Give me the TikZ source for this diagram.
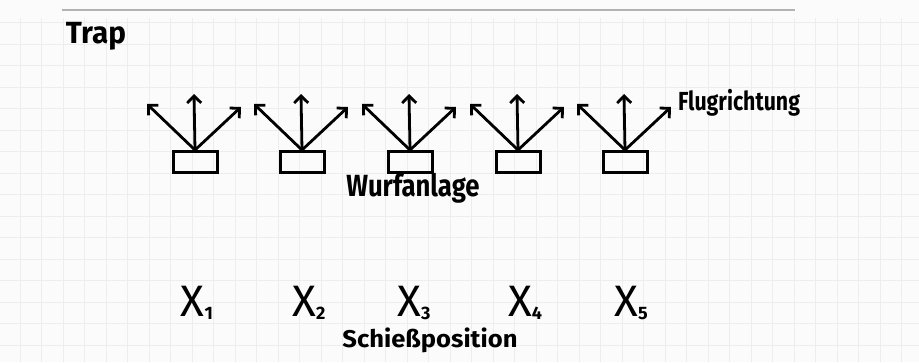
\documentclass[tikz,border=0pt]{standalone}
\usepackage{fontspec}
\setmainfont{Fira Sans}
\usepackage{graphicx}
\usetikzlibrary{arrows.meta}
\newcommand{\fitw}[3]{\resizebox*{#1pt}{#2pt}{#3}}
\newcommand{\posx}[1]{{\fontsize{44}{44}\selectfont\mdseries X}\raisebox{-3pt}{\fontsize{18}{18}\selectfont\bfseries #1}}
\begin{document}
\begin{tikzpicture}[x=1pt,y=-1pt,
  thrower/.style={draw=black,line width=3pt,minimum width=44pt,minimum height=21pt,inner sep=0pt},
  flight/.style={line width=2.8pt,line cap=round,-{Straight Barb[length=7pt,width=14pt,line width=2.8pt]}},
  hand/.style={inner sep=0pt,text=black,font=\bfseries},
  paper/.style={draw=gray!14,line width=0.5pt},
  ]
\useasboundingbox (0,0) rectangle (919,362);
\fill[gray!3] (0,0) rectangle (919,362);
% faint squared paper
\foreach \k in {0,...,15} {\draw[paper] (0,{22.5+21.5*\k}) -- (919,{22.5+21.5*\k});}
\foreach \k in {0,...,42} {\draw[paper] ({20+21.5*\k},18) -- ({20+21.5*\k},362);}
\draw[gray!60,line width=1.2pt] (62,10) -- (795,10);
% throwing machines with flight directions
\foreach \i/\x in {1/195,2/302,3/410,4/518,5/625} {
  \node[thrower] (w\i) at (\x,162) {};
  \coordinate (l\i) at (\x-48,104);
  \coordinate (u\i) at (\x-1,94);
  \coordinate (r\i) at (\x+46,107);
  \draw[flight] (w\i.north) -- (l\i);
  \draw[flight] (w\i.north) -- (u\i);
  \draw[flight] (w\i.north) -- (r\i);
}
% shooting positions
\foreach \i/\x in {1/197,2/309,3/414,4/525,5/631} {
  \node[hand] (x\i) at (\x,303) {\posx{\i}};
}
\node[hand] (trap) at (96,36) {\fitw{60}{28}{Trap}};
\node[hand] (flug) at (739,103) {\fitw{122}{27}{Flugrichtung}};
\node[hand] (wurf) at (413,188) {\fitw{133}{30}{Wurfanlage}};
\node[hand] (schiess) at (430,340) {\fitw{175}{25}{Schießposition}};
\end{tikzpicture}
\end{document}
